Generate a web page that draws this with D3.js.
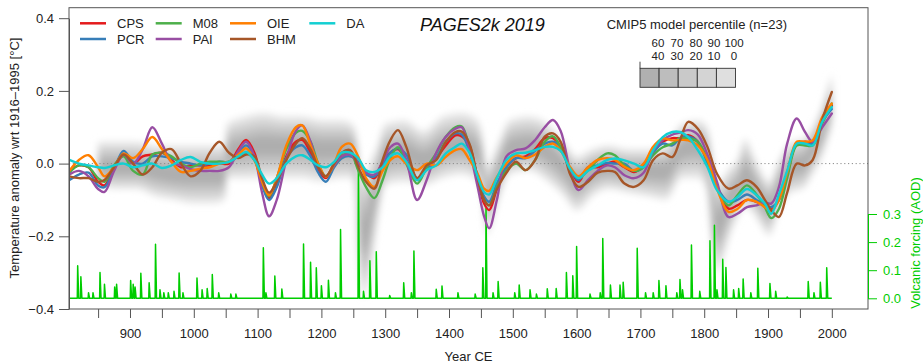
<!DOCTYPE html>
<html><head><meta charset="utf-8">
<script src="https://cdn.jsdelivr.net/npm/d3@7"></script>
<style>
html,body{margin:0;padding:0;background:#fff;}
svg{display:block;font-family:"Liberation Sans",Arial,Helvetica,sans-serif;}
</style></head><body>
<svg id="chart" width="923" height="363"></svg>
<script>
// ---- Reconstructions (°C anomaly wrt 1916–1995), smoothed, shared year grid ----
const years = [805,820,835,850,860,875,890,905,920,935, 950,965,980,995,1010,1025,1040,1055,1070,1082,
  1095,1107,1118,1130,1145,1160,1170,1183,1195,1207, 1220,1232,1245,1258,1270,1283,1296,1308,1320,1333,
  1350,1365,1380,1395,1410,1420,1432,1445,1455,1463, 1475,1490,1505,1520,1535,1550,1563,1575,1590,1603,
  1618,1633,1648,1660,1675,1690,1705,1720,1735,1750, 1762,1775,1790,1805,1820,1838,1852,1867,1882,1895,
  1905,1917,1930,1945,1958,1970,1985,2000];

const cps = [-0.02,-0.005,-0.01,-0.05,-0.06,-0.01,0.025,0,0.02,0.025, 0.03,0.01,-0.01,-0.005,-0.005,-0.005,0,0,0.04,0.065,
  0.03,-0.05,-0.095,-0.06,0.02,0.06,0.065,0.03,-0.02,-0.04, 0,0.02,0.03,0,-0.025,-0.04,0.005,0.03,0.04,0.01,
  -0.045,-0.01,0.015,0.05,0.078,0.075,0.05,-0.045,-0.11,-0.128, -0.07,-0.01,0.015,0.02,0.04,0.07,0.07,0.045,-0.015,-0.05,
  -0.01,-0.01,0,0.005,-0.01,-0.023,-0.005,0.04,0.06,0.07, 0.07,0.078,0.06,0.01,-0.065,-0.124,-0.115,-0.1,-0.105,-0.115,
  -0.125,-0.1,-0.025,0.055,0.06,0.06,0.12,0.16];
const pcr = [-0.045,-0.03,-0.025,-0.06,-0.065,-0.015,0.035,0.005,0,0.02, 0.02,0.015,0.005,0,-0.005,0,0.005,0.005,0.03,0.05,
  0.02,-0.06,-0.1,-0.065,0.015,0.045,0.05,0.02,-0.025,-0.05, -0.01,0.015,0.02,0.005,-0.03,-0.035,-0.005,0.03,0.042,0.025,
  -0.04,-0.015,0.015,0.06,0.083,0.08,0.035,-0.035,-0.09,-0.105, -0.055,-0.01,0.015,0.015,0.035,0.055,0.06,0.045,-0.015,-0.045,
  -0.01,-0.005,0.002,0,0,-0.02,-0.01,0.03,0.055,0.05, 0.07,0.075,0.06,0,-0.065,-0.105,-0.1,-0.085,-0.1,-0.115,
  -0.12,-0.1,-0.03,0.055,0.055,0.055,0.115,0.15];
const m08 = [-0.025,-0.005,-0.01,-0.04,-0.05,-0.005,0.02,-0.02,-0.03,0.025, 0.03,0.02,0,-0.01,0,0.005,0.005,0.005,0.02,0.03,
  0.01,-0.05,-0.09,-0.04,0.04,0.085,0.09,0.06,0,-0.035, -0.005,0.02,0.03,-0.02,-0.065,-0.095,-0.045,0.015,0.045,0,
  -0.055,-0.01,0.028,0.074,0.1,0.102,0.046,-0.04,-0.1,-0.115, -0.065,-0.02,0,-0.018,0.01,0.06,0.075,0.045,-0.015,-0.04,
  -0.018,0.01,0.028,0.023,-0.005,-0.02,-0.01,0.023,0.045,0.055, 0.07,0.069,0.06,0.01,-0.065,-0.115,-0.087,-0.06,-0.085,-0.12,
  -0.15,-0.125,-0.04,0.05,0.05,0.05,0.11,0.165];
const pai = [-0.03,-0.02,-0.035,-0.07,-0.078,-0.02,0.025,0,0.04,0.1, 0.055,0.005,-0.005,-0.015,-0.02,-0.02,-0.02,-0.01,0.035,0.06,
  0.02,-0.08,-0.145,-0.1,0.01,0.09,0.105,0.06,-0.01,-0.035, -0.005,0.02,0.025,0,-0.025,-0.03,0.005,0.045,0.055,0.01,
  -0.1,-0.045,0.03,0.074,0.096,0.1,0.037,-0.065,-0.145,-0.178, -0.1,0.02,0.037,0.042,0.065,0.1,0.12,0.09,-0.02,-0.073,
  -0.045,-0.02,-0.005,-0.01,-0.032,-0.04,-0.025,0.035,0.065,0.08, 0.085,0.092,0.08,0.025,-0.05,-0.147,-0.138,-0.12,-0.115,-0.107,
  -0.11,-0.065,0.055,0.124,0.087,0.06,0.1,0.138];
const oie = [-0.02,0.01,0.023,-0.01,-0.035,-0.01,0.028,0.015,0.04,0.073, 0.04,0.005,-0.023,-0.02,-0.014,-0.01,0,0.005,0.025,0.042,
  0.01,-0.05,-0.087,-0.04,0.05,0.1,0.105,0.05,0,-0.036, 0,0.046,0.055,0.018,-0.04,-0.064,-0.02,0.01,0.02,0,
  -0.018,0,-0.005,0.019,0.037,0.04,0.01,-0.028,-0.069,-0.075, -0.037,0,0.023,0.015,0.025,0.046,0.055,0.035,-0.01,-0.035,
  -0.01,0.01,0.015,0.01,-0.009,-0.018,0,0.046,0.069,0.064, 0.065,0.064,0.05,0.01,-0.069,-0.133,-0.125,-0.1,-0.105,-0.12,
  -0.13,-0.1,-0.025,0.06,0.06,0.064,0.128,0.165];
const bhm = [-0.035,-0.04,-0.04,-0.05,-0.045,-0.01,0.025,0,-0.03,-0.01, 0.03,0.04,0,-0.035,-0.02,0.03,0.06,0.03,0.015,0.025,
  0.02,-0.04,-0.08,-0.05,0.01,0.055,0.07,0.04,-0.01,-0.035, 0,0.03,0.037,-0.01,-0.05,-0.069,0.01,0.064,0.092,0.046,
  -0.04,-0.005,0.01,0.06,0.087,0.088,0.055,-0.04,-0.1,-0.115, -0.07,-0.025,0.005,-0.018,0.01,0.074,0.083,0.06,-0.03,-0.064,
  -0.05,-0.025,-0.02,-0.023,-0.055,-0.064,-0.046,0.01,0.028,0.018, 0.064,0.115,0.096,0.046,-0.028,-0.069,-0.06,-0.046,-0.064,-0.1,
  -0.128,-0.147,-0.08,0,-0.005,0.01,0.12,0.197];
const da = [0.01,0,-0.005,-0.01,-0.012,-0.005,0,-0.01,-0.005,0, -0.012,-0.005,0.01,0.018,0.005,0,0,0.005,0.02,0.032,
  0.01,-0.03,-0.055,-0.04,0,0.02,0.023,0.01,-0.005,-0.01, 0.005,0.03,0.03,0.014,-0.018,-0.023,-0.01,0.02,0.028,0.005,
  -0.046,-0.018,-0.005,0.028,0.046,0.055,0.03,-0.037,-0.078,-0.085, -0.04,0.01,0.028,0.03,0.037,0.046,0.046,0.035,-0.015,-0.04,
  -0.02,-0.005,0.01,0.014,0.009,0,-0.01,0.037,0.073,0.087, 0.087,0.073,0.037,-0.009,-0.073,-0.105,-0.092,-0.07,-0.087,-0.11,
  -0.138,-0.085,-0.02,0.055,0.055,0.05,0.115,0.156];

const seriesNames = ["CPS","PCR","M08","PAI","OIE","BHM","DA"];
const seriesColors = ["#e41a1c","#377eb8","#4daf4a","#984ea3","#ff7f00","#a65628","#13cfd2"];
const seriesValues = [cps, pcr, m08, pai, oie, bhm, da];

// ---- CMIP5 ensemble (median and full range) ----
const gYear = [850,880,910,940,970,1000,1030,1049,1052,1080, 1110,1140,1170,1200,1230,1248,1255,1260,1266,1275,
  1288,1300,1330,1360,1390,1420,1445,1453,1459,1466, 1478,1495,1525,1555,1580,1600,1625,1650,1680,1710,
  1740,1765,1790,1805,1812,1818,1828,1840,1852,1864, 1878,1892,1902,1915,1935,1955,1970,1985,2000];
const gMed = [-0.01,-0.01,-0.01,-0.02,-0.03,-0.03,-0.03,-0.03,0.03,0.04, 0.05,0.05,0.05,0.04,0.04,0.04,0.0,-0.15,-0.2,-0.15,
  -0.05,0.02,0.03,0.01,0.04,0.05,0.03,-0.02,-0.1,-0.08, -0.02,0.04,0.05,0.03,-0.01,-0.05,-0.02,-0.01,-0.02,-0.02,
  -0.02,0.04,0.05,0.02,-0.09,-0.18,-0.15,-0.1,-0.07,-0.03, -0.06,-0.1,-0.12,-0.07,-0.01,0.0,0.04,0.09,0.17];
const gLo = [-0.06,-0.07,-0.07,-0.09,-0.1,-0.11,-0.11,-0.1,-0.04,-0.04, -0.04,-0.04,-0.04,-0.05,-0.04,-0.04,-0.1,-0.3,-0.37,-0.32,
  -0.16,-0.06,-0.05,-0.06,-0.04,-0.03,-0.05,-0.1,-0.2,-0.17, -0.1,-0.03,-0.02,-0.05,-0.09,-0.13,-0.09,-0.07,-0.08,-0.09,
  -0.1,-0.04,-0.04,-0.08,-0.22,-0.3,-0.27,-0.2,-0.15,-0.12, -0.14,-0.18,-0.2,-0.14,-0.08,-0.07,-0.03,0.02,0.1];
const gHi = [0.06,0.06,0.06,0.05,0.05,0.05,0.05,0.05,0.11,0.13, 0.14,0.13,0.13,0.12,0.12,0.11,0.08,-0.02,-0.05,0.0,
  0.05,0.11,0.12,0.09,0.13,0.14,0.12,0.07,-0.01,0.01, 0.06,0.12,0.13,0.11,0.06,0.02,0.04,0.05,0.04,0.04,
  0.05,0.11,0.12,0.1,0.03,-0.05,-0.04,-0.01,0.01,0.07, 0.02,-0.03,-0.05,0.0,0.06,0.07,0.1,0.16,0.25];
// percentile bands, outermost first
const bandUpper = [100, 90, 80, 70, 60];
const bandLower = [0, 10, 20, 30, 40];

// ---- Volcanic forcing: eruption year and peak AOD ----
const volcYear = [818,823,835,842,853,860,876,879,901,905,908,917,930,940,947,953,960,969,977,983,
  1005,1013,1021,1029,1039,1058,1066,1109,1113,1127,1138,1172,1183,1192,1200,1211,1222,1230,1258,1266,
  1276,1286,1307,1329,1341,1345,1380,1389,1414,1441,1453,1458,1469,1477,1503,1510,1527,1537,1554,1568,
  1584,1594,1600,1621,1637,1641,1653,1668,1673,1695,1708,1720,1729,1740,1757,1762,1766,1780,1793,1809,
  1816,1820,1829,1834,1846,1854,1861,1873,1884,1903,1912,1930,1963,1972,1982,1992];
const volcAOD = [0.116,0.077,0.02,0.02,0.092,0.05,0.04,0.05,0.063,0.05,0.04,0.089,0.055,0.192,0.03,0.02,0.02,0.025,0.09,0.02,
  0.072,0.03,0.035,0.085,0.02,0.015,0.015,0.18,0.02,0.079,0.033,0.193,0.128,0.109,0.045,0.064,0.02,0.245,0.48,0.025,
  0.134,0.166,0.01,0.055,0.02,0.168,0.032,0.044,0.02,0.015,0.109,0.32,0.02,0.06,0.02,0.047,0.03,0.015,0.034,0.035,
  0.092,0.08,0.184,0.015,0.02,0.213,0.047,0.047,0.057,0.178,0.02,0.02,0.063,0.045,0.02,0.067,0.03,0.19,0.025,0.205,
  0.26,0.03,0.139,0.11,0.03,0.035,0.069,0.02,0.107,0.053,0.025,0.005,0.06,0.02,0.057,0.109];
const volcSpan = [804, 2000];

// axis ticks
const xTicks = d3.range(850, 2001, 50);
const yTicks = [-0.4, -0.2, 0, 0.2, 0.4];
const aodTicks = [0, 0.1, 0.2, 0.3];

// ---------------- drawing ----------------
const W = 923, H = 363;
const box = {l: 69, r: 868, t: 7.7, b: 309};
const svg = d3.select("#chart");
const x = d3.scaleLinear().domain([804.4, 2056.7]).range([box.l, box.r]);
const y = d3.scaleLinear().domain([-0.4, 0.4]).range([309, 18.2]);
const yA = d3.scaleLinear().domain([0, 0.3]).range([298.3, 214]);

const defs = svg.append("defs");
defs.append("clipPath").attr("id", "plotclip").append("rect")
  .attr("x", box.l).attr("y", box.t).attr("width", box.r - box.l).attr("height", box.b - box.t);
defs.append("filter").attr("id", "haze").attr("filterUnits", "userSpaceOnUse")
  .attr("x", 0).attr("y", 0).attr("width", W).attr("height", H)
  .append("feGaussianBlur").attr("stdDeviation", 3.5);

const plot = svg.append("g").attr("clip-path", "url(#plotclip)");

// model spread shading
const bandColors = ["#e7e7e7", "#d9d9d9", "#cbcbcb", "#bdbdbd", "#aeaeae"];
const gRows = gYear.map((yr, i) => ({yr, med: gMed[i], lo: gLo[i], hi: gHi[i]}));
const haze = plot.append("g").attr("filter", "url(#haze)");
bandUpper.forEach((up, k) => {
  const fHi = (up - 50) / 50, fLo = (50 - bandLower[k]) / 50;
  const sHi = Math.pow(fHi, 0.8), sLo = Math.pow(fLo, 0.8);
  const area = d3.area().curve(d3.curveMonotoneX)
    .x(d => x(d.yr))
    .y0(d => y(d.med - (d.med - d.lo) * sLo))
    .y1(d => y(d.med + (d.hi - d.med) * sHi));
  haze.append("path").datum(gRows).attr("d", area).attr("fill", bandColors[k]);
});

// zero reference
plot.append("line").attr("x1", box.l).attr("x2", box.r).attr("y1", y(0)).attr("y2", y(0))
  .attr("stroke", "#8a8a8a").attr("stroke-width", 1).attr("stroke-dasharray", "1.2,2.6");

// volcanic forcing spikes
const vPts = [[volcSpan[0], 0]];
volcYear.forEach((yr, i) => {
  vPts.push([yr - 0.6, 0], [yr, volcAOD[i]], [yr + 1.6, 0]);
});
vPts.push([volcSpan[1], 0]);
vPts.sort((a, b) => a[0] - b[0]);
plot.append("path").datum(vPts)
  .attr("d", d3.line().x(d => x(d[0])).y(d => yA(d[1])))
  .attr("fill", "none").attr("stroke", "#00cd00").attr("stroke-width", 1.5).attr("stroke-linejoin", "round");

// reconstructions
const line = d3.line().curve(d3.curveCatmullRom.alpha(0.5)).x(d => x(d[0])).y(d => y(d[1]));
seriesValues.forEach((vals, s) => {
  plot.append("path").datum(years.map((yr, i) => [yr, vals[i]]))
    .attr("d", line).attr("fill", "none").attr("stroke", seriesColors[s])
    .attr("stroke-width", 2.4).attr("stroke-linecap", "round").attr("stroke-linejoin", "round");
});

// frame
svg.append("rect").attr("x", box.l).attr("y", box.t).attr("width", box.r - box.l).attr("height", box.b - box.t)
  .attr("fill", "none").attr("stroke", "#555").attr("stroke-width", 1);

// axes
const axisStyle = (g, col) => {
  g.selectAll("path.domain").attr("stroke", col);
  g.selectAll(".tick line").attr("stroke", col);
  g.selectAll("text").attr("font-size", "13px").attr("font-family", "Liberation Sans, Arial, sans-serif");
};
const gy = svg.append("g").attr("transform", `translate(${box.l},0)`)
  .call(d3.axisLeft(y).tickValues(yTicks).tickFormat(d3.format(".1f")).tickSize(10).tickPadding(5).tickSizeOuter(0));
axisStyle(gy, "#555"); gy.selectAll("text").attr("fill", "#222");

const gx = svg.append("g").attr("transform", `translate(0,${box.b})`)
  .call(d3.axisBottom(x).tickValues(xTicks).tickFormat(d => d % 100 === 0 ? d : "").tickSize(9).tickPadding(10.5));
axisStyle(gx, "#555"); gx.select("path.domain").remove(); gx.selectAll("text").attr("fill", "#222");

const ga = svg.append("g").attr("transform", `translate(${box.r},0)`)
  .call(d3.axisRight(yA).tickValues(aodTicks).tickFormat(d3.format(".1f")).tickSize(9).tickPadding(6).tickSizeOuter(0));
axisStyle(ga, "#00cd00"); ga.selectAll("text").attr("fill", "#00cd00");

// axis titles
svg.append("text").attr("transform", "translate(19,158) rotate(-90)").attr("text-anchor", "middle")
  .attr("font-size", "13px").attr("fill", "#222").text("Temperature anomaly wrt 1916–1995 [°C]");
svg.append("text").attr("x", (box.l + box.r) / 2).attr("y", 361).attr("text-anchor", "middle")
  .attr("font-size", "13px").attr("fill", "#222").text("Year CE");
svg.append("text").attr("transform", "translate(919.5,243) rotate(-90)").attr("text-anchor", "middle")
  .attr("font-size", "13px").attr("fill", "#00cd00").text("Volcanic forcing (AOD)");

// title
svg.append("text").attr("x", 420).attr("y", 31).attr("font-size", "18px").attr("font-style", "italic")
  .attr("fill", "#111").text("PAGES2k 2019");

// series legend
const legPos = [[80, 0], [80, 1], [155.7, 0], [155.7, 1], [230, 0], [230, 1], [309.3, 0]];
const legRowY = [23.3, 39];
seriesNames.forEach((nm, s) => {
  const [lx, row] = legPos[s];
  const ly = legRowY[row];
  svg.append("line").attr("x1", lx).attr("x2", lx + 26).attr("y1", ly).attr("y2", ly)
    .attr("stroke", seriesColors[s]).attr("stroke-width", 2.5);
  svg.append("text").attr("x", lx + 37).attr("y", ly + 4.8)
    .attr("font-size", "13px").attr("fill", "#222").text(nm);
});

// percentile legend
svg.append("text").attr("x", 606.7).attr("y", 29).attr("font-size", "13px").attr("fill", "#222")
  .text("CMIP5 model percentile (n=23)");
const cellX = 640, cellW = 19.1, cellY = 68.3, cellH = 19;
const cellColors = ["#b0b0b0", "#bdbdbd", "#c9c9c9", "#d4d4d4", "#dfdfdf"];
const labelX = [658, 677, 696, 714, 734];
const upRev = bandUpper.slice().reverse(), loRev = bandLower.slice().reverse();
upRev.forEach((up, i) => {
  svg.append("rect").attr("x", cellX + i * cellW).attr("y", cellY).attr("width", cellW).attr("height", cellH)
    .attr("fill", cellColors[i]).attr("stroke", "#333").attr("stroke-width", 0.9);
  svg.append("text").attr("x", labelX[i]).attr("y", 47).attr("text-anchor", "middle")
    .attr("font-size", "11.5px").attr("fill", "#222").text(up);
  svg.append("text").attr("x", labelX[i]).attr("y", 59.5).attr("text-anchor", "middle")
    .attr("font-size", "11.5px").attr("fill", "#222").text(loRev[i]);
});
svg.append("line").attr("x1", cellX).attr("x2", cellX).attr("y1", 61.7).attr("y2", cellY)
  .attr("stroke", "#333").attr("stroke-width", 0.9);
</script>
</body></html>
